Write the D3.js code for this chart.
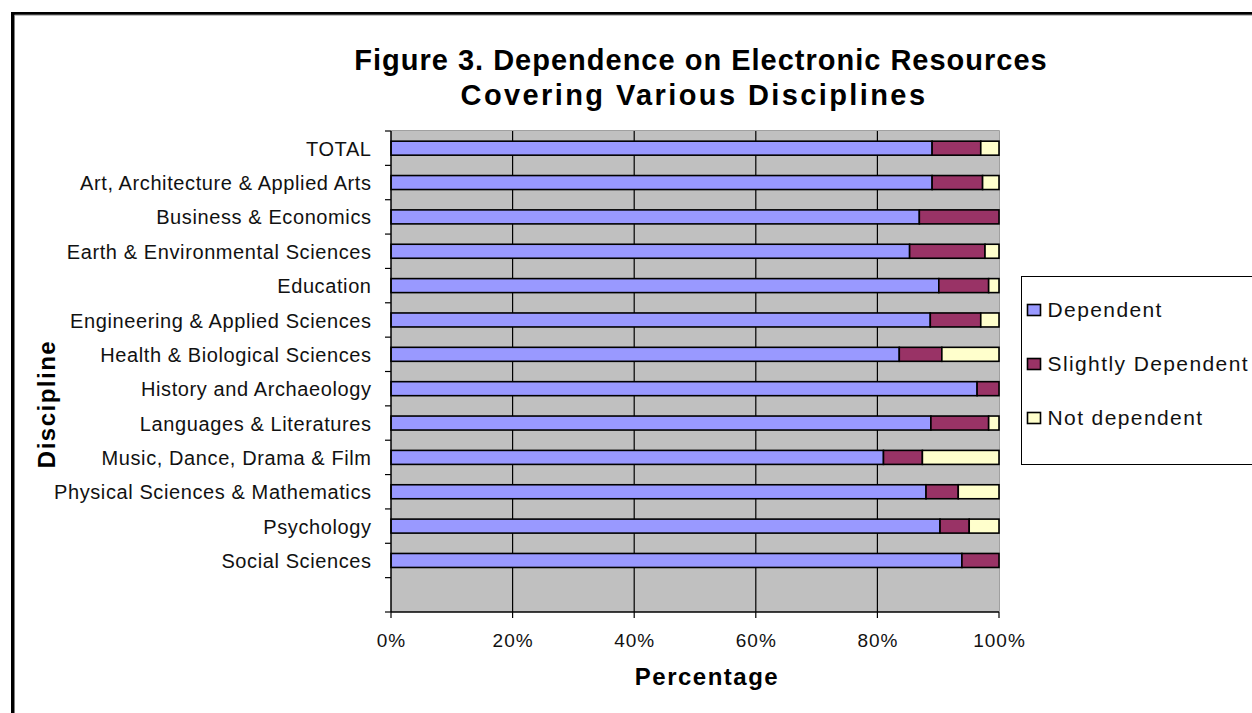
<!DOCTYPE html>
<html>
<head>
<meta charset="utf-8">
<script src="https://cdn.jsdelivr.net/npm/d3@7"></script>
<style>
  body { margin: 0; background: #fff; }
  svg { display: block; font-family: Arial, "Liberation Sans", sans-serif; }
</style>
</head>
<body>
<svg width="1252" height="713"></svg>
<script>
// categories, top to bottom
var categories = ["TOTAL", "Art, Architecture & Applied Arts", "Business & Economics",
    "Earth & Environmental Sciences", "Education", "Engineering & Applied Sciences",
    "Health & Biological Sciences", "History and Archaeology", "Languages & Literatures",
    "Music, Dance, Drama & Film", "Physical Sciences & Mathematics", "Psychology",
    "Social Sciences"];

// percentages
var dependent         = [89.0, 89.0, 86.9, 85.3, 90.1, 88.7, 83.6, 96.4, 88.8, 81.0, 88.0, 90.3, 93.9];
var slightlyDependent = [ 8.0,  8.3, 13.1, 12.4,  8.2,  8.3,  7.0,  3.6,  9.5,  6.4,  5.3,  4.8,  6.1];
var notDependent      = [ 3.0,  2.7,  0.0,  2.3,  1.7,  3.0,  9.4,  0.0,  1.7, 12.6,  6.7,  4.9,  0.0];

var seriesNames = ["Dependent", "Slightly Dependent", "Not dependent"];
var seriesColors = ["#9999FF", "#993366", "#FFFFCC"];
var xTicks = [0, 20, 40, 60, 80, 100];

(function() {
    var svg = d3.select("svg");

    // chart frame (continues past the right and bottom edges)
    svg.append("path")
        .attr("d", "M12.5,1000 V13.5 H1300")
        .attr("fill", "none").attr("stroke", "#000").attr("stroke-width", 3);
    svg.append("path")
        .attr("d", "M14.5,1000 V15 H1300")
        .attr("fill", "none").attr("stroke", "#808080").attr("stroke-width", 1);

    var pLeft = 391, pRight = 999, pTop = 131, pBottom = 612;

    var x = d3.scaleLinear().domain([0, 100]).range([pLeft, pRight]);
    // one empty slot at the bottom like the original
    var nSlots = categories.length + 1;
    var y = d3.scaleBand().domain(d3.range(nSlots)).range([pTop, pBottom]).padding(0);

    // plot background
    svg.append("rect")
        .attr("x", pLeft).attr("y", pTop)
        .attr("width", pRight - pLeft).attr("height", pBottom - pTop)
        .attr("fill", "#C0C0C0");

    // top/right shading edge
    svg.append("path")
        .attr("d", "M" + pLeft + "," + (pTop - 0.5) + " H" + (pRight + 0.5) + " V" + pBottom)
        .attr("fill", "none").attr("stroke", "#A0A0A0").attr("stroke-width", 1);

    // gridlines
    svg.append("g").selectAll("line")
        .data(xTicks.slice(1, -1))
        .enter().append("line")
        .attr("x1", function(d) { return x(d); })
        .attr("x2", function(d) { return x(d); })
        .attr("y1", pTop).attr("y2", pBottom)
        .attr("stroke", "#000").attr("stroke-width", 1.2);

    // stacked bars
    var barH = 14;
    var bars = svg.append("g");
    categories.forEach(function(c, i) {
        var vals = [dependent[i], slightlyDependent[i], notDependent[i]];
        var start = 0;
        vals.forEach(function(v, k) {
            if (v > 0) {
                bars.append("rect")
                    .attr("x", x(start))
                    .attr("y", y(i) + y.bandwidth() / 2 - barH / 2)
                    .attr("width", x(start + v) - x(start))
                    .attr("height", barH)
                    .attr("fill", seriesColors[k])
                    .attr("stroke", "#000").attr("stroke-width", 1.6);
            }
            start += v;
        });
    });

    // y axis
    var yAxis = svg.append("g");
    yAxis.append("line")
        .attr("x1", pLeft).attr("x2", pLeft).attr("y1", pTop).attr("y2", pBottom)
        .attr("stroke", "#000").attr("stroke-width", 1.5);
    yAxis.selectAll("line.tk")
        .data(d3.range(nSlots + 1))
        .enter().append("line").attr("class", "tk")
        .attr("x1", pLeft - 6).attr("x2", pLeft)
        .attr("y1", function(d) { return pTop + d * y.step(); })
        .attr("y2", function(d) { return pTop + d * y.step(); })
        .attr("stroke", "#000").attr("stroke-width", 1.2);
    yAxis.selectAll("text")
        .data(categories)
        .enter().append("text")
        .attr("x", 371.6)
        .attr("y", function(d, i) { return y(i) + y.bandwidth() / 2; })
        .attr("dy", "0.38em")
        .attr("text-anchor", "end")
        .attr("font-size", 20)
        .attr("letter-spacing", 0.6)
        .attr("fill", "#111")
        .text(function(d) { return d; });

    // x axis
    var xAxis = svg.append("g");
    xAxis.append("line")
        .attr("x1", pLeft).attr("x2", pRight).attr("y1", pBottom).attr("y2", pBottom)
        .attr("stroke", "#000").attr("stroke-width", 1.5);
    xAxis.selectAll("line.tk")
        .data(xTicks)
        .enter().append("line").attr("class", "tk")
        .attr("x1", function(d) { return x(d); })
        .attr("x2", function(d) { return x(d); })
        .attr("y1", pBottom).attr("y2", pBottom + 6)
        .attr("stroke", "#000").attr("stroke-width", 1.2);
    xAxis.selectAll("text")
        .data(xTicks)
        .enter().append("text")
        .attr("x", function(d) { return x(d) + 0.5; })
        .attr("y", 647)
        .attr("text-anchor", "middle")
        .attr("font-size", 19)
        .attr("letter-spacing", 1)
        .attr("fill", "#111")
        .text(function(d) { return d + "%"; });

    // titles
    svg.append("text")
        .attr("x", 701).attr("y", 70)
        .attr("text-anchor", "middle")
        .attr("font-size", 29).attr("font-weight", "bold")
        .attr("letter-spacing", 1)
        .text("Figure 3. Dependence on Electronic Resources");
    svg.append("text")
        .attr("x", 694).attr("y", 105)
        .attr("text-anchor", "middle")
        .attr("font-size", 29).attr("font-weight", "bold")
        .attr("letter-spacing", 2.4)
        .text("Covering Various Disciplines");
    svg.append("text")
        .attr("x", 707).attr("y", 685)
        .attr("text-anchor", "middle")
        .attr("font-size", 24).attr("font-weight", "bold")
        .attr("letter-spacing", 1.5)
        .text("Percentage");
    svg.append("text")
        .attr("transform", "translate(55,404) rotate(-90)")
        .attr("text-anchor", "middle")
        .attr("font-size", 24).attr("font-weight", "bold")
        .attr("letter-spacing", 1.5)
        .text("Discipline");

    // legend
    var legend = svg.append("g");
    legend.append("rect")
        .attr("x", 1021.5).attr("y", 276.5)
        .attr("width", 260).attr("height", 188)
        .attr("fill", "#fff").attr("stroke", "#000").attr("stroke-width", 1);
    var ly = [317, 371, 425];
    seriesNames.forEach(function(n, k) {
        legend.append("rect")
            .attr("x", 1027.5).attr("y", ly[k] - 12.5)
            .attr("width", 13).attr("height", 11)
            .attr("fill", seriesColors[k])
            .attr("stroke", "#000").attr("stroke-width", 1.6);
        legend.append("text")
            .attr("x", 1047.5).attr("y", ly[k])
            .attr("font-size", 21)
            .attr("letter-spacing", 1.4)
            .attr("fill", "#111")
            .text(n);
    });
})();
</script>
</body>
</html>
